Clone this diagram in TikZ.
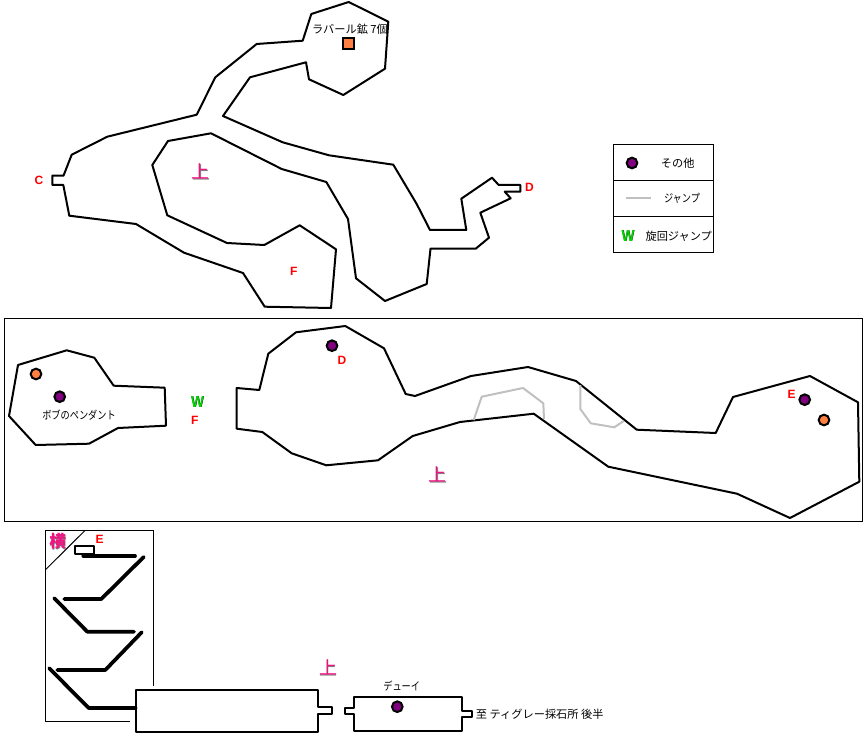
\documentclass[tikz,border=0pt]{standalone}
\usepackage{fontspec}
\setmainfont{Noto Sans CJK JP}[FakeStretch=.82]
\newfontfamily\markfont{Noto Sans CJK JP}
\newfontfamily\mapfont{Liberation Sans}
\definecolor{mapgreen}{RGB}{0,215,0}
\definecolor{mapmagenta}{RGB}{240,20,130}
\definecolor{mapgray}{RGB}{192,192,192}
\definecolor{ptorange}{RGB}{255,128,64}
\definecolor{ptpurple}{RGB}{128,0,128}
\newcommand{\shadowed}[3]{\makebox[0pt][l]{\hspace{.3pt}\raisebox{-.7pt}{\textcolor{#1}{#3}}}\textcolor{#2}{#3}}
\tikzset{
  room/.style={draw=black, line width=1.5pt, line join=round},
  jump/.style={draw=mapgray, line width=1.5pt, line join=round},
  ramp/.style={draw=black, line width=2.8pt, line join=round, line cap=round},
  frame/.style={draw=black, line width=.75pt},
  ptdot/.style={circle, draw=black, line width=1.5pt, minimum size=8pt, inner sep=0pt},
  letter/.style={font=\mapfont\bfseries\fontsize{9pt}{10pt}\selectfont, text=red, inner sep=0pt},
  caption/.style={font=\fontsize{8.4pt}{10pt}\selectfont, inner sep=0pt},
  widecaption/.style={font=\markfont\fontsize{8.4pt}{10pt}\selectfont, inner sep=0pt},
  upmark/.style={font=\markfont\fontsize{13.5pt}{15pt}\selectfont, inner sep=0pt},
  wmark/.style={font=\mapfont\bfseries\fontsize{12pt}{13pt}\selectfont, inner sep=0pt, xscale=.85}
}
\begin{document}
\begin{tikzpicture}[x=.75pt, y=-.75pt]
  \useasboundingbox (0,0) rectangle (864,738);

  % Upper map
  \draw[room] (52.3,175.7) -- (63.5,175.7) -- (71.7,154.7) -- (107.3,136.7) -- (196.7,114.7)
    -- (215.3,77.3) -- (256.7,44) -- (302.7,40.7) -- (311.3,14) -- (348.7,2) -- (388.3,21.7)
    -- (385,68.7) -- (343.3,95) -- (309,79.3) -- (306,62.3) -- (250,77.3) -- (223,116)
    -- (282.7,142.3) -- (329,155.3) -- (393.3,164.7) -- (416.7,204) -- (430,230) -- (466.3,230)
    -- (461.3,198.7) -- (492,177.7) -- (498.7,185) -- (520.3,185) -- (520.3,191.7) -- (504.7,191.7)
    -- (510.7,198.3) -- (480.3,212.7) -- (489,237.7) -- (475.7,248.7) -- (430.5,248.7)
    -- (426.7,284) -- (385,301) -- (356,278.3) -- (348,219) -- (326.3,182) -- (281.7,169)
    -- (211,133.3) -- (168,141) -- (152.3,165) -- (167.3,215.3) -- (227,243) -- (264.3,245)
    -- (299.7,225.3) -- (336,249.3) -- (331,308) -- (264.7,306.7) -- (243,273) -- (184,252.7)
    -- (136,224) -- (69.3,215.7) -- (63.3,185) -- (52.3,185) -- cycle;
  \node[widecaption] (oreLabel) at (350,29) {ラバール鉱 7個};
  \node[draw=black, line width=1.5pt, fill=ptorange, minimum size=8.2pt, inner sep=0pt] (oreBox) at (348.3,43.3) {};
  \node[letter] (upperC) at (39,180.7) {C};
  \node[letter] (upperD) at (529.5,187.7) {D};
  \node[letter] (upperF) at (293.7,271.7) {F};
  \node[upmark] (upperUp) at (200.7,171.5) {\shadowed{gray}{mapmagenta}{上}};

  % Legend
  \draw[frame] (613.5,144.5) rectangle (713.5,252.5);
  \draw[frame] (613.5,180.5) -- (713.5,180.5);
  \draw[frame] (613.5,216.5) -- (713.5,216.5);
  \node[ptdot, fill=ptpurple] (legendDot) at (632,163) {};
  \node[widecaption] (legendOther) at (677.7,163) {その他};
  \coordinate (legendJumpA) at (626,198);
  \coordinate (legendJumpB) at (651,198);
  \draw[jump] (legendJumpA) -- (legendJumpB);
  \node[caption] (legendJump) at (682,198) {ジャンプ};
  \node[wmark] (legendW) at (628,236) {\shadowed{black}{mapgreen}{W}};
  \node[widecaption] (legendSpin) at (678.7,236) {旋回ジャンプ};

  % Middle map
  \draw[frame] (4.5,318) rectangle (862.5,521.5);
  \draw[room] (18,365) -- (66.7,350.3) -- (94.3,357.7) -- (113.7,385.7) -- (164.7,387.7)
    -- (166,425.7) -- (118,428) -- (89,443.7) -- (35.7,445) -- (9,416) -- cycle;
  \draw[room] (236.7,388) -- (259.3,390) -- (268.3,353.7) -- (296,332.3) -- (345.3,326)
    -- (384,348.3) -- (405.7,394) -- (415,396) -- (471,376) -- (528,367) -- (576,381)
    -- (636.7,429.7) -- (715.7,433) -- (733,397) -- (810,376) -- (858,402.3) -- (859.3,481.7)
    -- (790,518) -- (737,493.7) -- (608.3,466.7) -- (533.7,413.7) -- (460,422) -- (412.7,436)
    -- (378,460.3) -- (326.3,465.3) -- (291.7,453.3) -- (262.3,432) -- (236.7,428.7) -- cycle;
  \draw[jump] (473.7,420) -- (481.7,396.7) -- (523,388) -- (543.3,403.3) -- (544,419);
  \draw[jump] (580.3,385) -- (580.3,409) -- (590.7,423.3) -- (614.3,427.3) -- (623.7,421);
  \node[ptdot, fill=ptorange] (orangeWest) at (36,374) {};
  \node[ptdot, fill=ptpurple] (pendantDot) at (59.7,396.7) {};
  \node[caption] (pendantLabel) at (79,415) {ボブのペンダント};
  \node[wmark] (middleW) at (197.5,402) {\shadowed{black}{mapgreen}{W}};
  \node[letter] (middleF) at (194.7,420) {F};
  \node[ptdot, fill=ptpurple] (dotD) at (332,345.7) {};
  \node[letter] (middleD) at (342,360.7) {D};
  \node[letter] (middleE) at (791.7,394.5) {E};
  \node[ptdot, fill=ptpurple] (dotE) at (804.7,399.7) {};
  \node[ptdot, fill=ptorange] (orangeEast) at (824,420) {};
  \node[upmark] (middleUp) at (437.7,474.5) {\shadowed{gray}{mapmagenta}{上}};

  % Side view inset
  \draw[frame] (153.5,686) -- (153.5,530.5) -- (45.5,530.5) -- (45.5,721.5) -- (130,721.5);
  \draw[frame] (45.5,569.7) -- (85,530.5);
  \node[font=\markfont\bfseries\fontsize{12.5pt}{13pt}\selectfont, inner sep=0pt] (sideTitle) at (57.7,542) {\shadowed{gray}{mapmagenta}{横}};
  \node[letter] (sideE) at (99.7,539.7) {E};
  \draw[room] (74.7,545.7) rectangle (94,554.3);
  \draw[ramp] (83.3,556) -- (135,556);
  \draw[ramp] (143.7,557) -- (101.3,599) -- (64.3,599);
  \draw[ramp] (54.3,598.3) -- (87.3,631.7) -- (134,631.7);
  \draw[ramp] (141.7,632.3) -- (105.3,670) -- (57.3,670);
  \draw[ramp] (49.3,668.3) -- (88.7,708) -- (135.7,708);

  % Lower rooms
  \draw[room] (135.7,689.7) -- (318,689.7) -- (318,707.3) -- (332,707.3) -- (332,714)
    -- (318,714) -- (318,732) -- (135.7,732) -- cycle;
  \draw[room] (353.7,696.7) -- (462.3,696.7) -- (462.3,711) -- (471.7,711) -- (471.7,717.3)
    -- (462.3,717.3) -- (462.3,731) -- (353.7,731) -- (353.7,714.3) -- (344.7,714.3)
    -- (344.7,708) -- (353.7,708) -- cycle;
  \node[upmark] (lowerUp) at (328.3,668) {\shadowed{gray}{mapmagenta}{上}};
  \node[caption] (dewLabel) at (401.7,686) {デューイ};
  \node[ptdot, fill=ptpurple] (dewDot) at (397.3,706.7) {};
  \node[widecaption, anchor=west] (exitLabel) at (475.7,714) {至 ティグレー採石所 後半};
\end{tikzpicture}
\end{document}
